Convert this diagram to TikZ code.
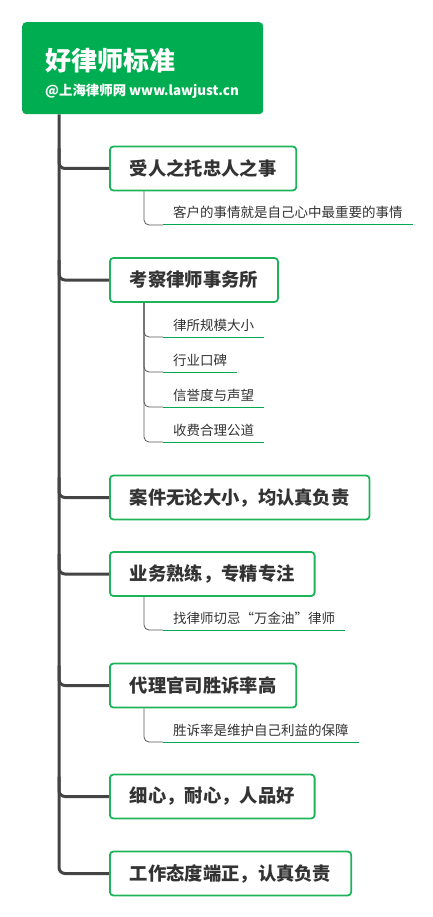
\documentclass[tikz,border=0pt]{standalone}
\usepackage{fontspec}
\setmainfont{Noto Sans CJK SC}
\definecolor{rootgreen}{HTML}{00AD50}
\definecolor{boxgreen}{HTML}{1DB35A}
\definecolor{ulgreen}{HTML}{00A84F}
\definecolor{trunkgray}{HTML}{444444}
\definecolor{txt}{HTML}{333333}
\tikzset{
  mainbox/.style={draw=boxgreen, line width=1.8pt, rounded corners=3.5pt, fill=white,
    anchor=west, minimum height=44pt, inner xsep=20pt, inner ysep=0pt,
    text=txt, font=\fontsize{18.3pt}{20pt}\selectfont\bfseries},
  subtext/.style={anchor=base west, inner xsep=10pt, inner ysep=0pt, text=txt,
    font=\fontsize{13.5pt}{15pt}\selectfont},
  trunk/.style={draw=trunkgray, line width=3pt, rounded corners=6pt},
  subline/.style={draw=trunkgray!90, line width=0.8pt, rounded corners=5pt},
  ul/.style={draw=ulgreen, line width=1pt},
}
\newcommand{\mysubitem}[4]{% box, name, underline y, text
  \coordinate (#2u) at (163,#3);
  \node[subtext] (#2) at (163,#3-7) {#4};
  \draw[subline] ([xshift=35pt]#1.south west) |- (#2u);
  \draw[ul] (#2u) -- (#2u -| #2.east);
}
\begin{document}
\begin{tikzpicture}[x=1pt,y=-1pt]
\useasboundingbox (0,0) rectangle (433,917);
% root
\node[fill=rootgreen, rounded corners=4pt, minimum width=241pt, minimum height=92pt,
  anchor=north west, inner sep=0pt] (root) at (22,22) {};
\node[anchor=west, inner sep=0pt, text=white, font=\fontsize{26pt}{28pt}\selectfont\bfseries] (title) at (45,61) {好律师标准};
\node[anchor=west, inner sep=0pt, text=white, font=\fontsize{13.4pt}{15pt}\selectfont\bfseries] (subtitle) at (45,91) {@上海律师网 www.lawjust.cn};
% main boxes
\node[mainbox] (b1) at (109,168.5) {受人之托忠人之事};
\node[mainbox] (b2) at (109,280) {考察律师事务所};
\node[mainbox] (b3) at (109,497.5) {案件无论大小，均认真负责};
\node[mainbox] (b4) at (109,574) {业务熟练，专精专注};
\node[mainbox] (b5) at (109,685.5) {代理官司胜诉率高};
\node[mainbox] (b6) at (109,796.5) {细心，耐心，人品好};
\node[mainbox] (b7) at (109,873.5) {工作态度端正，认真负责};
% trunk
\coordinate (t0) at ([xshift=37pt]root.south west);
\draw[trunk] (t0) |- (b7.west);
\foreach \b in {b1,b2,b3,b4,b5,b6}{
  \draw[trunk] ([yshift=20pt]t0 |- \b.west) |- (\b.west);
}
% sub items
\mysubitem{b1}{s11}{225}{客户的事情就是自己心中最重要的事情}
\mysubitem{b2}{s21}{337}{律所规模大小}
\mysubitem{b2}{s22}{372}{行业口碑}
\mysubitem{b2}{s23}{407}{信誉度与声望}
\mysubitem{b2}{s24}{442}{收费合理公道}
\mysubitem{b4}{s41}{630}{找律师切忌“万金油”律师}
\mysubitem{b5}{s51}{742}{胜诉率是维护自己利益的保障}
\end{tikzpicture}
\end{document}
